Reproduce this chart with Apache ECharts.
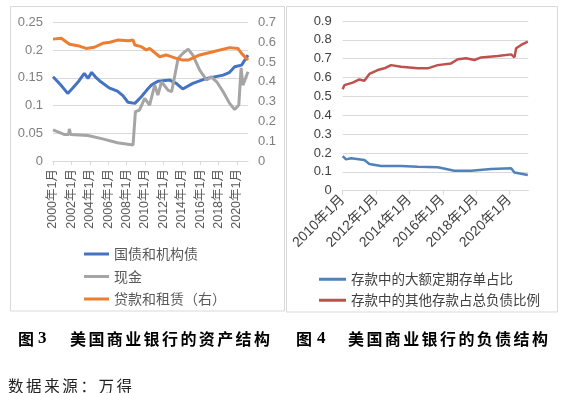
<!DOCTYPE html>
<html><head><meta charset="utf-8">
<script src="https://cdn.jsdelivr.net/npm/echarts@6/dist/echarts.min.js"></script>
<style>
html,body{margin:0;padding:0;background:#fff;}
#c{position:absolute;left:0;top:0;width:565px;height:393px;}
.cap{position:absolute;font-family:"Noto Sans CJK SC";font-weight:bold;font-size:16px;color:#000;white-space:nowrap;line-height:20px;}
.num{font-family:"Liberation Serif";font-weight:bold;font-size:17px;}
.src{position:absolute;font-family:"Noto Sans CJK SC";font-size:15.5px;color:#222;white-space:nowrap;line-height:20px;letter-spacing:2.6px;}
</style></head><body>
<div id="c"></div>
<div class="cap" style="left:18px;top:328px;">图</div>
<div class="cap num" style="left:38px;top:328px;">3</div>
<div class="cap" style="left:70px;top:328px;letter-spacing:2.4px;">美国商业银行的资产结构</div>
<div class="cap" style="left:296px;top:328px;">图</div>
<div class="cap num" style="left:317px;top:328px;">4</div>
<div class="cap" style="left:348px;top:328px;letter-spacing:2.4px;">美国商业银行的负债结构</div>
<div class="src" style="left:8px;top:375px;">数据来源：万得</div>
<script>
// ---------- Figure 3 (assets) ----------
const leftXTickLabels = ['2000年1月','2002年1月','2004年1月','2006年1月','2008年1月','2010年1月','2012年1月','2014年1月','2016年1月','2018年1月','2020年1月'];
const govYears  = [2000.0,2000.8,2001.6,2002.1,2002.7,2003.4,2003.8,2004.2,2004.6,2005.2,2006.1,2007.0,2007.6,2008.15,2008.9,2009.6,2010.2,2010.7,2011.4,2012.7,2013.4,2014.1,2015.2,2016.7,2018.5,2019.2,2019.75,2020.5,2021.2];
const govValues = [0.152,0.138,0.122,0.131,0.142,0.158,0.149,0.160,0.152,0.143,0.132,0.126,0.118,0.106,0.104,0.116,0.128,0.137,0.144,0.146,0.140,0.130,0.140,0.149,0.155,0.160,0.170,0.173,0.191];
const cashYears  = [2000.0,2001.2,2001.7,2001.78,2001.9,2003.8,2005.4,2007.0,2008.7,2008.85,2008.96,2009.4,2009.97,2010.5,2011.06,2011.4,2011.8,2012.5,2012.9,2013.6,2014.1,2014.7,2015.2,2015.95,2016.7,2017.2,2017.8,2018.5,2019.2,2019.75,2020.2,2020.3,2020.45,2020.65,2021.2];
const cashValues = [0.056,0.048,0.048,0.058,0.048,0.046,0.040,0.033,0.029,0.031,0.089,0.092,0.113,0.101,0.137,0.119,0.143,0.128,0.125,0.185,0.194,0.202,0.191,0.164,0.146,0.152,0.143,0.125,0.104,0.093,0.101,0.100,0.168,0.137,0.161];
const loanYears  = [2000.0,2000.9,2001.8,2002.7,2003.6,2004.5,2005.4,2006.2,2007.0,2008.2,2008.7,2008.9,2009.6,2010.15,2010.5,2011.6,2012.3,2013.4,2014.1,2014.7,2015.95,2017.4,2019.2,2020.1,2020.5,2021.2];
const loanValues = [0.616,0.620,0.590,0.583,0.569,0.575,0.595,0.600,0.611,0.608,0.611,0.586,0.578,0.561,0.569,0.527,0.536,0.519,0.510,0.510,0.536,0.552,0.573,0.569,0.544,0.510];

// ---------- Figure 4 (liabilities) ----------
const rightXTickLabels = ['2010年1月','2012年1月','2014年1月','2016年1月','2018年1月','2020年1月'];
const cdYears  = [2010.0,2010.2,2010.5,2011.3,2011.6,2012.3,2013.5,2014.5,2015.7,2016.7,2017.7,2018.9,2020.1,2020.3,2021.1];
const cdValues = [0.184,0.166,0.172,0.163,0.142,0.131,0.131,0.127,0.124,0.106,0.106,0.115,0.119,0.097,0.083];
const otherYears  = [2010.0,2010.1,2010.6,2011.0,2011.3,2011.6,2012.1,2012.5,2012.9,2013.5,2014.5,2015.1,2015.7,2016.5,2016.9,2017.4,2017.9,2018.3,2019.3,2020.1,2020.3,2020.4,2020.7,2021.1];
const otherValues = [0.538,0.560,0.573,0.590,0.583,0.619,0.640,0.649,0.666,0.657,0.649,0.649,0.666,0.675,0.697,0.702,0.693,0.707,0.714,0.723,0.707,0.755,0.773,0.790];

const seriesNames = ['国债和机构债','现金','贷款和租赁（右）','存款中的大额定期存单占比','存款中的其他存款占总负债比例'];

const zip = (xs, ys) => xs.map((x, i) => [x, ys[i]]);
const FONT = '"Liberation Sans","Noto Sans CJK SC",sans-serif';
const grid = '#d9d9d9';

const chart = echarts.init(document.getElementById('c'), null, {renderer: 'canvas'});
chart.setOption({
  animation: false,
  textStyle: {fontFamily: FONT},
  graphic: [
    {type: 'rect', shape: {x: 10.5, y: 6.5, width: 274, height: 304.5}, style: {fill: 'none', stroke: grid, lineWidth: 1}},
    {type: 'rect', shape: {x: 286.5, y: 6.5, width: 271, height: 305.5}, style: {fill: 'none', stroke: grid, lineWidth: 1}}
  ],
  grid: [
    {left: 53, top: 22.5, width: 195, height: 138.5},
    {left: 342.7, top: 21, width: 185.6, height: 169.7}
  ],
  xAxis: [
    {type: 'value', gridIndex: 0, min: 2000, max: 2021.2, interval: 2,
      axisLine: {lineStyle: {color: grid}}, axisTick: {show: true, length: 4, lineStyle: {color: grid}},
      splitLine: {show: false},
      axisLabel: {rotate: 90, fontSize: 12.5, color: '#595959', margin: 8, showMaxLabel: false,
        formatter: v => { const i = Math.round((v - 2000) / 2); return (Math.abs(v - 2000 - 2 * i) < 1e-6 && leftXTickLabels[i]) ? leftXTickLabels[i] : ''; }}},
    {type: 'value', gridIndex: 1, min: 2010, max: 2021.13, interval: 2,
      axisLine: {lineStyle: {color: grid}}, axisTick: {show: true, length: 4, lineStyle: {color: grid}},
      splitLine: {show: false},
      axisLabel: {rotate: 45, fontSize: 14, color: '#404040', margin: 7, showMaxLabel: false,
        formatter: v => { const i = Math.round((v - 2010) / 2); return (Math.abs(v - 2010 - 2 * i) < 1e-6 && rightXTickLabels[i]) ? rightXTickLabels[i] : ''; }}}
  ],
  yAxis: [
    {type: 'value', gridIndex: 0, position: 'left', min: 0, max: 0.25, interval: 0.05,
      axisLine: {show: false}, axisTick: {show: false},
      splitLine: {lineStyle: {color: grid}},
      axisLabel: {fontSize: 13, color: '#7f7f7f', margin: 10}},
    {type: 'value', gridIndex: 0, position: 'right', min: 0, max: 0.7, interval: 0.1,
      axisLine: {show: false}, axisTick: {show: false}, splitLine: {show: false},
      axisLabel: {fontSize: 13, color: '#7f7f7f', margin: 10}},
    {type: 'value', gridIndex: 1, min: 0, max: 0.9, interval: 0.1,
      axisLine: {show: false}, axisTick: {show: false},
      splitLine: {lineStyle: {color: grid}},
      axisLabel: {fontSize: 13, color: '#404040', margin: 11}}
  ],
  legend: [
    {data: seriesNames.slice(0, 3), orient: 'vertical', left: 79, top: 242, icon: 'rect',
      itemWidth: 25, itemHeight: 3, itemGap: 8.5,
      textStyle: {fontSize: 14, color: '#595959', fontFamily: '"Noto Sans CJK SC"'}},
    {data: seriesNames.slice(3), orient: 'vertical', left: 314, top: 267.5, icon: 'rect',
      itemWidth: 27, itemHeight: 3, itemGap: 7.5,
      textStyle: {fontSize: 13.5, color: '#404040', fontFamily: '"Noto Sans CJK SC"'}}
  ],
  series: [
    {name: seriesNames[0], type: 'line', xAxisIndex: 0, yAxisIndex: 0, data: zip(govYears, govValues),
      showSymbol: false, lineStyle: {width: 3, color: '#4472C4'}, itemStyle: {color: '#4472C4'}},
    {name: seriesNames[1], type: 'line', xAxisIndex: 0, yAxisIndex: 0, data: zip(cashYears, cashValues),
      showSymbol: false, lineStyle: {width: 3, color: '#A5A5A5'}, itemStyle: {color: '#A5A5A5'}},
    {name: seriesNames[2], type: 'line', xAxisIndex: 0, yAxisIndex: 1, data: zip(loanYears, loanValues),
      showSymbol: false, lineStyle: {width: 3, color: '#ED7D31'}, itemStyle: {color: '#ED7D31'}},
    {name: seriesNames[3], type: 'line', xAxisIndex: 1, yAxisIndex: 2, data: zip(cdYears, cdValues),
      showSymbol: false, lineStyle: {width: 2.5, color: '#4F81BD'}, itemStyle: {color: '#4F81BD'}},
    {name: seriesNames[4], type: 'line', xAxisIndex: 1, yAxisIndex: 2, data: zip(otherYears, otherValues),
      showSymbol: false, lineStyle: {width: 2.5, color: '#C0504D'}, itemStyle: {color: '#C0504D'}}
  ]
});
</script>
</body></html>
